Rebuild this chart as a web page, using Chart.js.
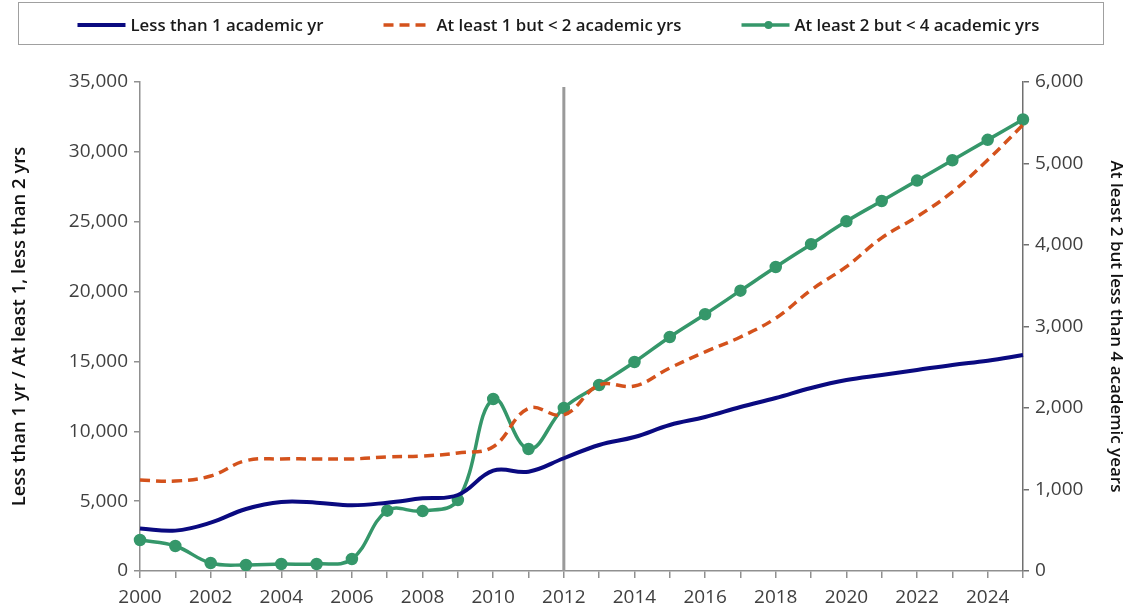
<!DOCTYPE html>
<html>
<head>
<meta charset="utf-8">
<script src="https://cdn.jsdelivr.net/npm/chart.js@4"></script>
<style>
  html, body { margin: 0; padding: 0; background: #ffffff; }
  #wrap { width: 1124px; height: 609px; position: relative; }
</style>
</head>
<body>
<div id="wrap"><canvas id="c" width="1124" height="609"></canvas></div>
<script>
// ---- data ----
const years = [2000,2001,2002,2003,2004,2005,2006,2007,2008,2009,2010,2011,2012,2013,2014,2015,2016,2017,2018,2019,2020,2021,2022,2023,2024,2025];
const seriesNames = ["Less than 1 academic yr", "At least 1 but < 2 academic yrs", "At least 2 but < 4 academic yrs"];
const lessThan1Yr = [3050,2890,3460,4440,4940,4890,4700,4890,5200,5440,7180,7110,8070,9020,9590,10450,11020,11740,12380,13100,13670,14030,14390,14750,15050,15460];
const oneToTwoYrs = [6510,6440,6800,7900,8020,8020,8020,8160,8230,8450,8900,11640,11170,13310,13240,14530,15680,16750,18100,20110,21790,23840,25360,27130,29420,31930];
const twoToFourYrs = [380,307,98,74,86,86,147,740,735,871,2110,1497,2000,2282,2564,2871,3150,3440,3730,4010,4290,4540,4790,5040,5290,5540];
const markerYear = 2012;
const leftTitle = "Less than 1 yr / At least 1, less than 2 yrs";
const rightTitle = "At least 2 but less than 4 academic years";

const BLUE = '#0a0a80', ORANGE = '#d4521c', GREEN = '#35976a';
const TICK_FONT = { family: "'Open Sans', sans-serif", size: 19 };
const TICK_COLOR = '#404040';

const vLinePlugin = {
  id: 'vline',
  beforeDatasetsDraw(chart) {
    const x = chart.scales.x.getPixelForValue(years.indexOf(markerYear));
    const ctx = chart.ctx, a = chart.chartArea;
    ctx.save();
    ctx.strokeStyle = '#9a9a9a';
    ctx.lineWidth = 3;
    ctx.beginPath();
    ctx.moveTo(x, a.top + 5);
    ctx.lineTo(x, a.bottom);
    ctx.stroke();
    ctx.restore();
  }
};

const legendPlugin = {
  id: 'boxlegend',
  afterDraw(chart) {
    const ctx = chart.ctx;
    ctx.save();
    ctx.strokeStyle = '#a0a0a0';
    ctx.lineWidth = 1;
    ctx.strokeRect(18.5, 2.5, 1085, 42);
    ctx.font = "600 16.8px 'Open Sans', sans-serif";
    ctx.textBaseline = 'middle';
    ctx.fillStyle = '#1a1a1a';
    const sampleLen = 48, gapText = 5, gapItem = 60;
    const widths = chart.data.datasets.map(d => ctx.measureText(d.label).width);
    const total = widths.reduce((s, w) => s + sampleLen + gapText + w, 0) + gapItem * (widths.length - 1);
    let x = 16 + (1085 - total) / 2;
    const y = 25;
    chart.data.datasets.forEach((d, i) => {
      ctx.save();
      ctx.strokeStyle = d.borderColor;
      ctx.lineWidth = d.borderWidth;
      ctx.setLineDash(d.borderDash || []);
      ctx.beginPath();
      ctx.moveTo(x, y);
      ctx.lineTo(x + sampleLen, y);
      ctx.stroke();
      if (d.pointRadius > 0) {
        ctx.setLineDash([]);
        ctx.fillStyle = d.pointBackgroundColor;
        ctx.beginPath();
        ctx.arc(x + sampleLen / 2 + 3, y, 4, 0, Math.PI * 2);
        ctx.fill();
      }
      ctx.restore();
      ctx.fillText(d.label, x + sampleLen + gapText, y + 1);
      x += sampleLen + gapText + widths[i] + gapItem;
    });
    ctx.restore();
  }
};

new Chart(document.getElementById('c'), {
  type: 'line',
  data: {
    labels: years,
    datasets: [
      { label: seriesNames[0], data: lessThan1Yr, yAxisID: 'y', borderColor: BLUE, backgroundColor: BLUE,
        borderWidth: 4, pointRadius: 0, tension: 0.4 },
      { label: seriesNames[1], data: oneToTwoYrs, yAxisID: 'y', borderColor: ORANGE, backgroundColor: ORANGE,
        borderWidth: 3.5, borderDash: [10, 6], pointRadius: 0, tension: 0.4 },
      { label: seriesNames[2], data: twoToFourYrs, yAxisID: 'y1', borderColor: GREEN, backgroundColor: GREEN,
        pointBackgroundColor: GREEN, pointBorderColor: GREEN,
        borderWidth: 3.5, pointRadius: 4.5, pointHoverRadius: 4.5, tension: 0.4 }
    ]
  },
  options: {
    responsive: false,
    animation: false,
    devicePixelRatio: 1,
    layout: { padding: { top: 82, left: 0, right: 0, bottom: 0 } },
    plugins: { legend: { display: false }, tooltip: { enabled: false } },
    scales: {
      x: {
        type: 'category',
        offset: false,
        afterFit(s) { s.height = 38; },
        grid: { display: true, drawOnChartArea: false, drawTicks: true, tickLength: 7, color: '#909090', lineWidth: 1.5 },
        border: { display: true, color: '#909090', width: 1.5 },
        ticks: {
          autoSkip: false, maxRotation: 0, minRotation: 0, padding: 8,
          font: TICK_FONT, color: TICK_COLOR,
          callback: (v, i) => (years[i] % 2 === 0 ? String(years[i]) : '')
        }
      },
      y: {
        position: 'left', min: 0, max: 35000,
        afterFit(s) { s.width = 140; },
        grid: { display: true, drawOnChartArea: false, drawTicks: true, tickLength: 6, color: '#909090', lineWidth: 1.5 },
        border: { display: true, color: '#909090', width: 1.5 },
        ticks: { stepSize: 5000, padding: 6, font: TICK_FONT, color: TICK_COLOR,
          callback: v => v.toLocaleString('en-US') },
        title: { display: true, text: leftTitle, color: '#111',
          font: { family: "'Open Sans', sans-serif", size: 18.5, weight: '600', lineHeight: 1.2 },
          padding: { top: 9, bottom: 0 } }
      },
      y1: {
        position: 'right', min: 0, max: 6000,
        afterFit(s) { s.width = 101; },
        grid: { display: true, drawOnChartArea: false, drawTicks: true, tickLength: 6, color: '#707070', lineWidth: 1.5 },
        border: { display: true, color: '#707070', width: 1.5 },
        ticks: { stepSize: 1000, padding: 6, font: TICK_FONT, color: TICK_COLOR,
          callback: v => v.toLocaleString('en-US') },
        title: { display: true, text: rightTitle, color: '#111',
          font: { family: "'Open Sans', sans-serif", size: 17, weight: '600', lineHeight: 1.0 },
          padding: { top: 0, bottom: 0 } }
      }
    }
  },
  plugins: [vLinePlugin, legendPlugin]
});
</script>
</body>
</html>
